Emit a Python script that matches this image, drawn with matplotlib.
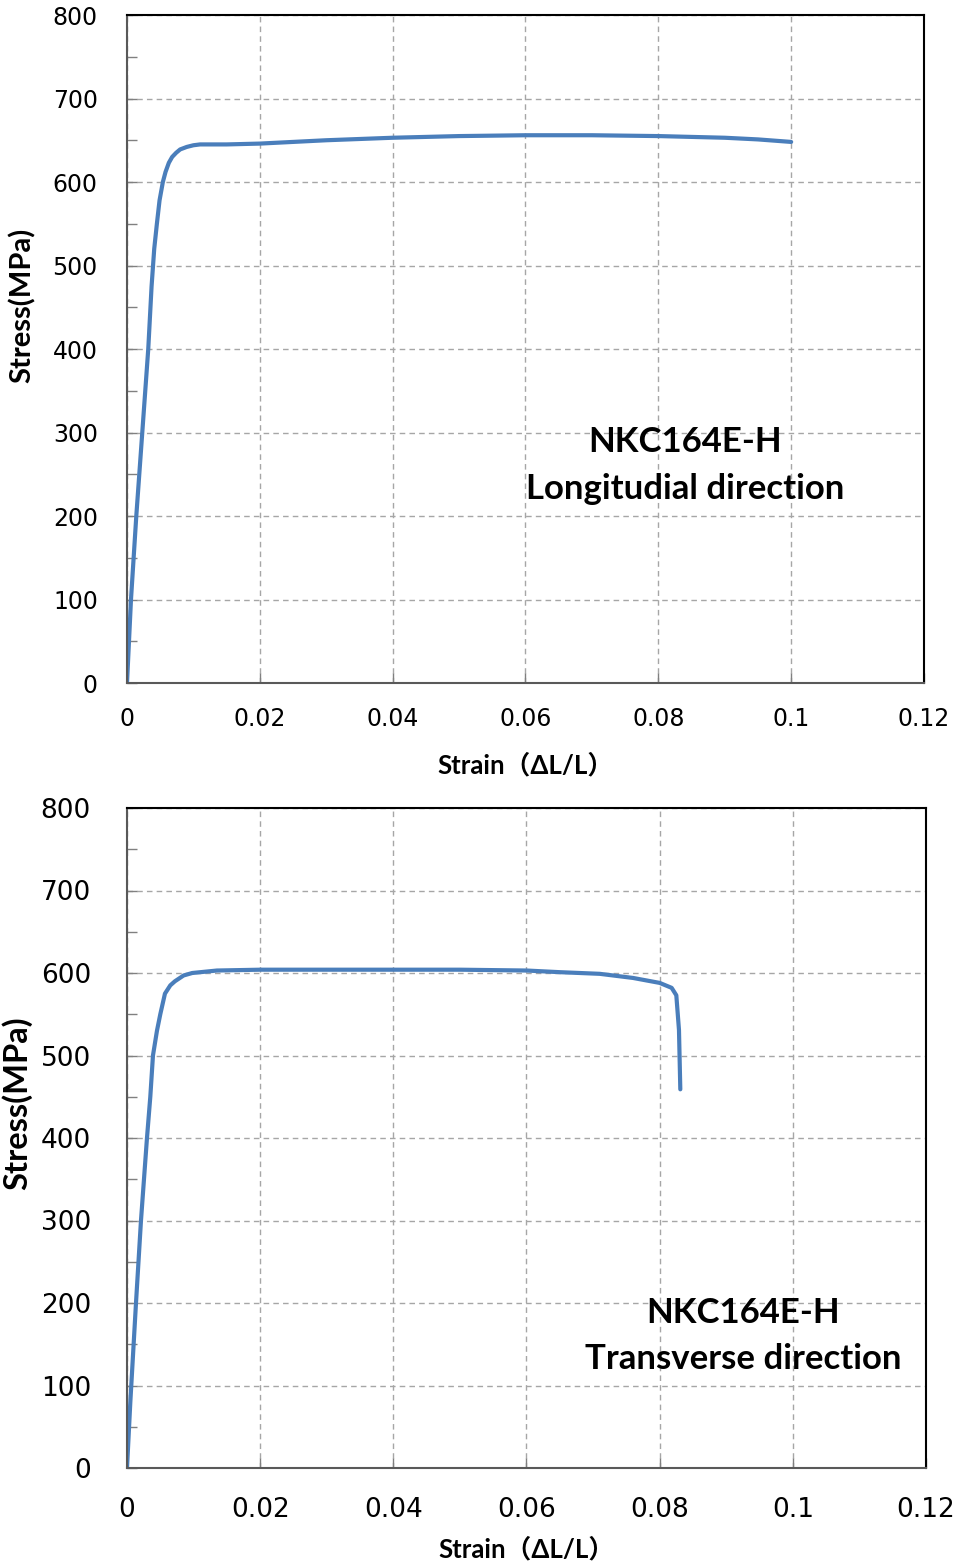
import matplotlib
matplotlib.use("Agg")
import matplotlib.pyplot as plt
from matplotlib.ticker import MultipleLocator

# Longitudinal direction
strain_long = [0, 0.0006, 0.0014, 0.0023, 0.0032, 0.0037, 0.0041, 0.0045, 0.0049, 0.0054,
               0.0058, 0.0063, 0.0068, 0.0074, 0.0080, 0.0090, 0.0100, 0.011, 0.015,
               0.020, 0.030, 0.040, 0.050, 0.060, 0.070, 0.080, 0.090, 0.095, 0.100]
stress_long = [0, 100, 200, 300, 400, 475, 520, 550, 578, 600,
               612, 623, 630, 635, 639, 642, 644, 645, 645,
               646, 650, 653, 655, 656, 656, 655, 653, 651, 648]

# Transverse direction
strain_trans = [0, 0.0005, 0.00135, 0.0021, 0.0030, 0.0035, 0.0039, 0.0045, 0.0050,
                0.0057, 0.0065, 0.0072, 0.0085, 0.0098, 0.0135, 0.020, 0.030, 0.040,
                0.050, 0.060, 0.065, 0.071, 0.076, 0.080, 0.0818, 0.0825, 0.0829, 0.0831]
stress_trans = [0, 80, 200, 300, 400, 450, 500, 530, 550,
                575, 585, 590, 597, 600, 603, 604, 604, 604,
                604, 603, 601, 599, 594, 588, 582, 573, 531, 459]

xticks = [0, 0.02, 0.04, 0.06, 0.08, 0.1, 0.12]
xticklabels = ["0", "0.02", "0.04", "0.06", "0.08", "0.1", "0.12"]
yticks = [0, 100, 200, 300, 400, 500, 600, 700, 800]

LINE = "#4a7ebb"
LABEL_FONT = ["Lato", "Noto Sans CJK JP", "DejaVu Sans"]
TICK_FONT = ["DejaVu Sans"]

fig = plt.figure(figsize=(9.54, 15.66), dpi=100)
ax1 = fig.add_axes([127 / 954, 1 - 683 / 1566, 797 / 954, 668 / 1566])
ax2 = fig.add_axes([127 / 954, 1 - 1468 / 1566, 799 / 954, 660 / 1566])


def style(ax, tick_size, xpad, ypad):
    ax.set_xlim(0, 0.12)
    ax.set_ylim(0, 800)
    ax.set_xticks(xticks)
    ax.set_xticklabels(xticklabels)
    ax.set_yticks(yticks)
    ax.yaxis.set_minor_locator(MultipleLocator(50))
    ax.grid(True, which="major", color="#a6a6a6", linestyle=(0, (4, 3)), linewidth=1)
    ax.tick_params(which="both", direction="in", color="#808080")
    ax.tick_params(which="major", length=7, width=1)
    ax.tick_params(which="minor", length=7, width=1)
    ax.tick_params(axis="y", pad=ypad)
    ax.tick_params(axis="x", pad=xpad)
    for lab in ax.get_xticklabels() + ax.get_yticklabels():
        lab.set_family(TICK_FONT)
        lab.set_fontsize(tick_size)
    ax.spines["left"].set_color("#595959")
    ax.spines["bottom"].set_color("#595959")
    ax.spines["top"].set_color("black")
    ax.spines["right"].set_color("black")
    for s in ax.spines.values():
        s.set_linewidth(1.5)
    ax.set_axisbelow(True)


style(ax1, 17, 17, 21)
style(ax2, 19, 21, 26)

ax1.plot(strain_long, stress_long, color=LINE, linewidth=3, solid_capstyle="round")
ax2.plot(strain_trans, stress_trans, color=LINE, linewidth=3, solid_capstyle="round")

ax1.text(0.084, 289, "NKC164E-H", ha="center", va="center", fontsize=25,
         fontweight="bold", family=LABEL_FONT)
ax1.text(0.084, 232, "Longitudial direction", ha="center", va="center", fontsize=25,
         fontweight="bold", family=LABEL_FONT)
ax2.text(0.0925, 188, "NKC164E-H", ha="center", va="center", fontsize=25,
         fontweight="bold", family=LABEL_FONT)
ax2.text(0.0925, 132, "Transverse direction", ha="center", va="center", fontsize=25,
         fontweight="bold", family=LABEL_FONT)

ax1.text(-0.132, 0.566, "Stress(MPa)", transform=ax1.transAxes, rotation=90,
         ha="center", va="center", fontsize=21, fontweight="bold", family=LABEL_FONT)
ax1.text(0.500, -0.123, "Strain（ΔL/L）", transform=ax1.transAxes,
         ha="center", va="center", fontsize=18.5, fontweight="bold", family=LABEL_FONT)
ax2.text(-0.138, 0.553, "Stress(MPa)", transform=ax2.transAxes, rotation=90,
         ha="center", va="center", fontsize=23.5, fontweight="bold", family=LABEL_FONT)
ax2.text(0.500, -0.123, "Strain（ΔL/L）", transform=ax2.transAxes,
         ha="center", va="center", fontsize=18.5, fontweight="bold", family=LABEL_FONT)

fig.savefig("out.png", dpi=100)
